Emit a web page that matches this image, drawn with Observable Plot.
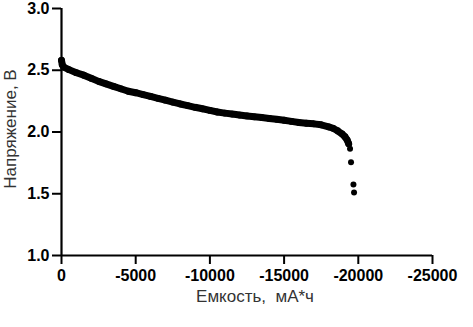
<!DOCTYPE html>
<html>
<head>
<meta charset="utf-8">
<script src="https://cdn.jsdelivr.net/npm/d3@7"></script>
<script src="https://cdn.jsdelivr.net/npm/@observablehq/plot@0.6"></script>
<style>
  html, body { margin: 0; padding: 0; background: #fff; }
</style>
</head>
<body>
<div id="chart"></div>
<script>
// Capacity (mA*h) and voltage (V)
const capacity = [0, -50, -150, -500, -1000, -1500, -2000, -2500, -3000, -3500, -4000, -4500,
  -5000, -5500, -6000, -6500, -7000, -7500, -8000, -8500, -9000, -9500, -10000, -10500,
  -11000, -11500, -12000, -12500, -13000, -13500, -14000, -14500, -15000, -15500, -16000,
  -16500, -17000, -17500, -18000, -18300, -18600, -18900, -19100, -19250, -19350];
const voltage = [2.58, 2.545, 2.525, 2.505, 2.48, 2.46, 2.435, 2.41, 2.39, 2.37, 2.35, 2.33,
  2.318, 2.303, 2.288, 2.273, 2.258, 2.242, 2.227, 2.214, 2.200, 2.188, 2.175, 2.162,
  2.153, 2.145, 2.137, 2.130, 2.123, 2.117, 2.110, 2.103, 2.095, 2.086, 2.077,
  2.071, 2.066, 2.058, 2.042, 2.030, 2.010, 1.985, 1.962, 1.935, 1.905];
// Sparse points at the end of discharge
const tailCapacity = [-19443, -19510, -19672, -19713];
const tailVoltage = [1.864, 1.755, 1.574, 1.51];

const xTicks = [0, -5000, -10000, -15000, -20000, -25000];
const yTicks = [1.0, 1.5, 2.0, 2.5, 3.0];
const xTitle = "Емкость,  мА*ч";
const yTitle = "Напряжение, В";

const curve = capacity.map((c, i) => ({c, v: voltage[i]}));
const tail = tailCapacity.map((c, i) => ({c, v: tailVoltage[i]}));

const font = "'Liberation Sans', Arial, sans-serif";

const chart = Plot.plot({
  width: 473,
  height: 327,
  marginLeft: 61,
  marginRight: 41,
  marginTop: 8,
  marginBottom: 72,
  style: {fontFamily: font, background: "#fff", color: "#000"},
  x: {domain: [0, -25000]},
  y: {domain: [1, 3]},
  marks: [
    Plot.axisX(xTicks, {
      tickSize: 9, tickPadding: 5, fontSize: 16, fontWeight: "bold",
      strokeWidth: 2, tickFormat: d => String(d), label: null
    }),
    Plot.axisY(yTicks, {
      tickSize: 9, tickPadding: 3, fontSize: 16, fontWeight: "bold",
      strokeWidth: 2, tickFormat: d3.format(".1f"), label: null
    }),
    Plot.ruleY([1], {stroke: "#000", strokeWidth: 2.2}),
    Plot.ruleX([0], {stroke: "#000", strokeWidth: 2.2}),
    Plot.line(curve, {x: "c", y: "v", stroke: "#000", strokeWidth: 7, strokeLinecap: "round", strokeLinejoin: "round"}),
    Plot.dot(curve, {x: "c", y: "v", r: 3.4, fill: "#000"}),
    Plot.dot(tail, {x: "c", y: "v", r: 3, fill: "#000"}),
    Plot.text([xTitle], {text: d => d, frameAnchor: "bottom", dx: 8, dy: 46, fontSize: 17, fontWeight: "normal", fill: "#333", fontFamily: font}),
    Plot.text([yTitle], {text: d => d, frameAnchor: "left", textAnchor: "middle", dx: -51, dy: -3, rotate: -90, fontSize: 17, fontWeight: "normal", fill: "#333", fontFamily: font})
  ]
});
document.getElementById("chart").appendChild(chart);
</script>
</body>
</html>
